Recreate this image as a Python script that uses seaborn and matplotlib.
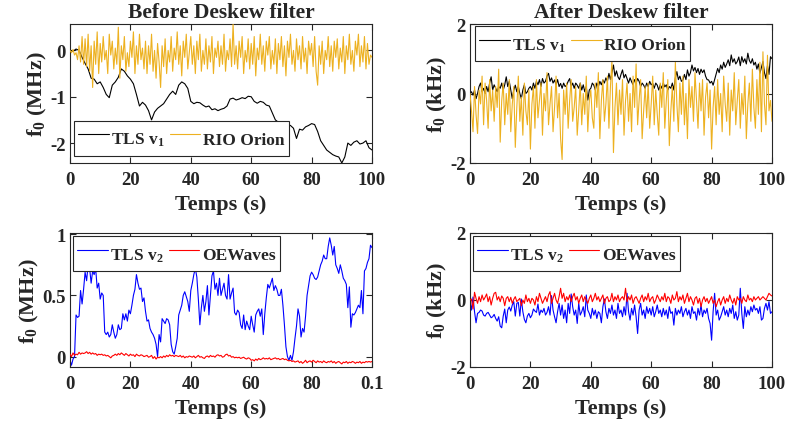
import numpy as np
import pandas as pd
import matplotlib
matplotlib.use("Agg")
import matplotlib.pyplot as plt
import seaborn as sns

# ---------------- data ----------------
t_fine = np.arange(0, 100.01, 0.5)     # 201 samples, 0.5 s apart
t_coarse = np.arange(0, 101, 1.0)      # 101 samples, 1 s apart

tls_v1_before = [
    0.0, -0.02, 0.03, 0.0, -0.15, -0.28, -0.4, -0.6, -0.62, -0.72,
    -0.68, -0.8, -0.95, -1.02, -0.75, -0.68, -0.58, -0.4, -0.45, -0.55,
    -0.62, -0.72, -0.95, -1.2, -1.12, -1.18, -1.3, -1.5, -1.33, -1.25,
    -1.2, -1.15, -1.05, -0.95, -0.88, -0.95, -0.75, -0.68, -0.72, -0.82,
    -1.1, -1.15, -1.12, -1.13, -1.18, -1.22, -1.2, -1.28, -1.26, -1.3,
    -1.27, -1.25, -1.2, -1.05, -1.03, -1.07, -1.05, -1.02, -1.04, -0.99,
    -1.0, -1.1, -1.14, -1.1, -1.12, -1.18, -1.2, -1.35, -1.5, -1.55,
    -1.6, -1.65, -1.6, -1.62, -1.68, -1.9, -1.7, -1.72, -1.65, -1.62,
    -1.58, -1.6, -1.75, -1.95, -2.05, -2.15, -2.2, -2.25, -2.28, -2.3,
    -2.43, -2.3, -2.0, -2.05, -1.98, -1.95, -2.02, -2.0, -1.95, -2.1,
    -2.15]

rio_before = [
    0.0, -0.05, 0.02, -0.1, -0.05, -0.2, 0.1, -0.25, 0.3, -0.3,
    0.25, -0.35, 0.35, -0.45, 0.1, -0.8, 0.2, -0.3, 0.4, -0.5,
    0.15, -0.25, 0.3, -0.2, 0.0, -0.5, 0.35, -0.1, 0.2, -0.4,
    0.05, -0.3, 0.5, -0.6, 0.1, -0.2, 0.3, -0.45, -0.05, -0.35,
    0.2, -0.15, 0.4, -0.5, 0.1, -0.3, 0.35, -0.2, 0.05, -0.4,
    0.2, -0.5, 0.1, -0.3, 0.35, -0.45, 0.0, -0.6, 0.15, -0.25,
    -0.8, 0.1, -0.35, 0.25, -0.5, 0.0, -0.25, 0.3, -0.45, 0.05,
    -0.2, 0.4, -0.3, 0.1, -0.55, 0.2, -0.15, 0.35, -0.4, -0.05,
    0.3, -0.3, 0.1, -0.5, 0.2, -0.2, 0.35, -0.45, 0.0, -0.3,
    0.25, -0.4, 0.1, -0.25, 0.3, -0.5, 0.05, -0.15, 0.2, -0.35,
    0.1, -0.3, 0.35, -0.45, 0.0, -0.2, 0.25, -0.35, 0.57, -0.3,
    0.1, -0.4, 0.2, -0.15, 0.3, -0.5, 0.0, -0.25, 0.25, -0.4,
    0.15, -0.3, 0.3, -0.55, 0.05, -0.2, 0.35, -0.3, 0.1, -0.45,
    0.2, -0.1, 0.3, -0.4, 0.0, -0.3, 0.25, -0.5, 0.15, -0.2,
    0.3, -0.35, 0.1, -0.55, 0.2, -0.15, 0.35, -0.3, 0.0, -0.45,
    0.25, -0.2, 0.1, -0.4, 0.3, -0.25, 0.05, -0.5, 0.2, -0.1,
    0.15, -0.35, 0.3, -0.45, -0.75, 0.1, -0.3, 0.2, -0.5, 0.0,
    -0.2, 0.3, -0.35, 0.1, -0.45, 0.2, -0.15, 0.25, -0.4, 0.05,
    -0.25, 0.3, -0.5, 0.1, -0.2, 0.35, -0.3, 0.0, -0.45, 0.2,
    -0.1, 0.35, -0.35, 0.1, -0.25, 0.3, -0.4, 0.15, -0.3, -0.1,
    -0.15]

tls_v1_after = [
    0.0, 0.05, -0.05, 0.1, -0.15, 0.0, 0.2, 0.3, 0.05, 0.15,
    0.0, 0.2, 0.05, 0.3, 0.48, 0.1, 0.25, 0.15, 0.05, 0.2,
    0.15, 0.3, 0.1, 0.25, 0.48, 0.2, 0.35, 0.1, -0.15, 0.1,
    0.24, 0.05, 0.2, 0.0, -0.15, 0.1, 0.25, 0.0, 0.05, 0.15,
    0.2, 0.1, 0.3, 0.15, 0.35, 0.25, 0.4, 0.2, 0.43, 0.3,
    0.35, 0.5, 0.58, 0.35, 0.45, 0.3, 0.39, 0.25, 0.4, 0.2,
    0.29, 0.15, 0.3, 0.2, 0.24, 0.35, 0.43, 0.2, 0.3, 0.15,
    0.3, 0.24, 0.15, 0.3, 0.1, 0.25, 0.05, 0.2, -0.19, 0.1,
    0.15, 0.3, 0.24, 0.1, 0.3, 0.2, 0.35, 0.25, 0.39, 0.3,
    0.45, 0.35, 0.58, 0.4, 0.6, 0.82, 0.5, 0.65, 0.48, 0.4,
    0.55, 0.68, 0.45, 0.55, 0.43, 0.3, 0.45, 0.34, 0.25, 0.4,
    0.3, 0.43, 0.35, 0.2, 0.3, 0.24, 0.15, 0.3, 0.2, 0.35,
    0.25, 0.29, 0.15, 0.3, 0.24, 0.1, 0.25, 0.15, 0.3, 0.19,
    0.25, 0.1, 0.2, 0.15, 0.3, 0.1, 0.45, 0.63, 0.4, 0.5,
    0.35, 0.39, 0.55, 0.4, 0.68, 0.5, 0.6, 0.82, 0.65, 0.75,
    0.6, 0.72, 0.55, 0.7, 0.6, 0.68, 0.5, 0.4, 0.39, 0.3,
    0.35, 0.24, 0.4, 0.55, 0.72, 0.6, 0.82, 0.7, 0.9, 0.75,
    0.85, 0.97, 0.8, 1.11, 0.9, 1.0, 0.85, 0.92, 1.05, 0.8,
    1.06, 0.9, 1.0, 0.85, 1.16, 0.95, 0.87, 1.0, 0.82, 0.9,
    0.7, 0.85, 0.58, 0.75, 0.92, 0.6, 0.43, 0.8, 0.55, 1.06,
    1.0]

rio_after = [
    0.0, -0.5, -1.1, 0.2, -0.6, -1.15, 0.1, -0.3, 0.5, -0.9,
    0.3, -0.2, -1.0, 0.4, -0.5, 0.1, -0.8, 0.2, -0.4, 0.7,
    -1.4, -0.2, 0.3, -0.9, 0.0, -0.6, 0.4, -1.1, -0.3, 0.2,
    -1.55, -0.4, 0.5, -0.8, -0.1, -1.2, 0.3, -0.5, -0.9, 0.1,
    -1.6, -0.3, 0.2, -1.0, 0.4, -0.7, -0.2, 0.3, -1.2, 0.0,
    -0.5, 0.6, -0.9, -0.3, 0.2, -1.1, -0.4, 0.5, -0.7, 0.0,
    -1.3, -1.9, 0.1, -0.6, 0.3, -1.0, -0.2, 0.4, -0.8, -0.4,
    0.2, -1.2, -0.5, 0.3, -0.9, 0.0, -0.6, 0.5, -1.1, -0.2,
    0.1, -0.7, -1.0, 0.3, -0.4, 0.6, -1.3, -0.2, 0.4, -0.8,
    -0.3, 0.5, -1.0, 0.2, 0.95, -1.7, -0.4, 0.3, -0.9, 0.1,
    -0.6, 0.4, -1.2, -0.2, 0.3, -0.8, 0.0, -1.1, 0.5, -0.4,
    0.85, -0.9, -0.2, 0.4, -1.3, -0.5, 0.2, -0.7, 0.3, -1.0,
    -0.3, 0.5, -0.9, 0.1, -0.6, -1.2, 0.3, -0.4, 0.6, -1.0,
    -0.2, 0.4, -1.5, -0.5, 0.2, -0.8, 0.9, -0.3, -1.1, 0.3,
    -0.6, 0.5, -0.9, 0.0, -1.3, 0.4, -0.4, 0.2, -0.8, 0.6,
    -0.2, -1.0, 0.3, -0.5, 0.4, -1.2, -0.1, 0.3, -0.7, 0.1,
    -1.6, -0.4, 0.2, -0.9, 0.4, -0.6, 0.0, -1.1, 0.5, -0.3,
    -0.8, 0.3, -1.2, 0.1, -0.5, 0.6, -0.9, -0.2, 0.4, -1.0,
    0.0, -0.6, 0.5, -1.3, -0.3, 0.3, -0.8, 0.7, -0.4, -1.0,
    0.4, -0.6, 0.9, -1.1, 1.2, -0.3, -0.9, 1.1, -0.5, -0.2,
    -0.8]

tls_v2_before = [
    -0.03, -0.07, -0.02, 0.0, 0.34, 0.32, 0.33, 0.54, 0.43, 0.55,
    0.69, 0.62, 0.75, 0.72, 0.6, 0.7, 0.67, 0.72, 0.56, 0.6,
    0.47, 0.52, 0.5, 0.2, 0.18, 0.2, 0.16, 0.18, 0.26, 0.2,
    0.15, 0.18, 0.26, 0.22, 0.23, 0.35, 0.3, 0.35, 0.29, 0.38,
    0.35, 0.42, 0.5, 0.55, 0.67, 0.6, 0.55, 0.56, 0.45, 0.48,
    0.37, 0.29, 0.3, 0.23, 0.2, 0.18, 0.15, 0.1, 0.0, 0.18,
    0.12, 0.31, 0.29, 0.27, 0.31, 0.3, 0.26, 0.1, 0.04, 0.02,
    0.08, 0.15, 0.34, 0.38, 0.42, 0.5, 0.53, 0.49, 0.45, 0.37,
    0.54, 0.6, 0.67, 0.72, 0.65, 0.47, 0.26, 0.4, 0.5, 0.37,
    0.45, 0.58, 0.34, 0.5, 0.66, 0.7, 0.55, 0.6, 0.5, 0.64,
    0.5, 0.55, 0.6, 0.5, 0.47, 0.67, 0.47, 0.52, 0.56, 0.36,
    0.34, 0.38, 0.36, 0.26, 0.23, 0.34, 0.22, 0.29, 0.25, 0.22,
    0.33, 0.26, 0.2, 0.34, 0.37, 0.39, 0.33, 0.39, 0.18, 0.35,
    0.48, 0.59, 0.56, 0.6, 0.64, 0.54, 0.58, 0.55, 0.5, 0.5,
    0.55, 0.42, 0.26, 0.08, 0.0, -0.03, 0.01, -0.03, 0.04, 0.15,
    0.25, 0.39, 0.33, 0.16, 0.23, 0.2, 0.33, 0.5, 0.58, 0.66,
    0.69, 0.67, 0.64, 0.63, 0.65, 0.7, 0.75, 0.78, 0.83, 0.8,
    0.8, 0.9, 0.97, 0.91, 0.83, 0.9, 0.75, 0.72, 0.68, 0.75,
    0.7, 0.64, 0.62, 0.59, 0.4, 0.57, 0.24, 0.35, 0.34, 0.36,
    0.39, 0.42, 0.4, 0.54, 0.35, 0.7, 0.72, 0.77, 0.8, 0.91,
    0.89]

oewaves_before = [
    0.02, 0.0, 0.03, 0.01, 0.02, 0.015, 0.035, 0.02, 0.03, 0.025,
    0.03, 0.04, 0.025, 0.035, 0.02, 0.03, 0.02, 0.025, 0.01, 0.02,
    0.015, 0.02, 0.01, 0.015, 0.005, 0.01, 0.0, -0.01, 0.005, 0.01,
    0.02, 0.01, 0.025, 0.015, 0.03, 0.02, 0.01, 0.025, 0.015, 0.005,
    0.02, 0.01, 0.015, 0.0, 0.02, 0.01, 0.005, 0.015, 0.01, 0.0,
    0.005, 0.01, -0.005, 0.0, 0.01, -0.015, 0.0, -0.02, -0.005, -0.01,
    0.0, -0.01, 0.005, -0.005, 0.01, 0.0, 0.015, 0.005, 0.01, 0.0,
    0.01, 0.005, 0.0, 0.01, -0.005, 0.005, -0.01, 0.0, -0.005, 0.005,
    0.0, -0.005, 0.005, -0.01, 0.0, 0.01, -0.005, 0.0, -0.01, -0.015,
    0.0, 0.005, -0.005, 0.01, 0.0, 0.005, -0.005, 0.01, 0.015, 0.005,
    0.01, -0.005, 0.0, 0.015, 0.02, 0.005, 0.01, -0.005, 0.0, -0.01,
    -0.005, -0.01, -0.005, -0.015, -0.01, -0.005, -0.015, -0.02, -0.01, -0.015,
    -0.03, -0.025, -0.035, -0.02, -0.03, -0.015, -0.025, -0.02, -0.01, -0.02,
    -0.015, -0.02, -0.01, -0.025, -0.02, -0.015, -0.01, -0.02, -0.015, -0.025,
    -0.02, -0.015, -0.025, -0.02, -0.03, -0.035, -0.03, -0.04, -0.035, -0.045,
    -0.04, -0.035, -0.05, -0.04, -0.055, -0.045, -0.03, -0.05, -0.04, -0.035,
    -0.045, -0.03, -0.04, -0.05, -0.035, -0.045, -0.04, -0.05, -0.035, -0.045,
    -0.05, -0.04, -0.045, -0.035, -0.05, -0.04, -0.055, -0.045, -0.04, -0.05,
    -0.06, -0.045, -0.05, -0.04, -0.055, -0.045, -0.05, -0.04, -0.045, -0.055,
    -0.045, -0.05, -0.04, -0.055, -0.045, -0.05, -0.04, -0.045, -0.04, -0.045,
    -0.04]

tls_v2_after = [
    -0.05, -0.3, 0.09, -0.35, -0.68, -0.4, -0.37, -0.3, -0.33, -0.45,
    -0.48, -0.4, -0.37, -0.45, -0.53, -0.5, -0.43, -0.55, -0.63, -0.5,
    -0.78, -0.83, -0.48, -0.27, -0.68, -0.3, -0.21, -0.33, -0.15, -0.05,
    -0.48, -0.1, -0.07, -0.48, 0.03, -0.35, -0.58, -0.68, -0.48, -0.4,
    -0.53, -0.45, -0.27, -0.33, -0.37, -0.12, -0.45, -0.3, -0.37, -0.25,
    -0.45, -0.37, -0.2, -0.45, 0.13, -0.3, -0.5, -0.68, -0.35, -0.1,
    -0.45, -0.15, -0.55, -0.3, -0.68, -0.1, -0.4, 0.18, -0.2, -0.45,
    -0.3, -0.7, -0.1, -0.45, -0.35, -0.2, -0.5, 0.15, -0.3, -0.4,
    -0.55, -0.25, -0.45, -0.3, -0.55, -0.35, -0.4, -0.68, -0.2, 0.03,
    -0.35, -0.55, -0.25, -0.4, -0.15, -0.45, -0.3, -0.55, -0.1, -0.4,
    -0.3, -0.5, -0.2, -0.45, 0.2, -0.35, -0.6, -0.25, -0.45, -0.15,
    -0.5, -1.0, -0.3, -0.1, -0.45, -0.3, -0.55, -0.2, -0.4, -0.25,
    -0.45, -0.2, -0.5, -0.35, -0.15, -0.4, -0.3, -0.5, -0.25, -0.45,
    -0.3, -0.55, -0.2, -0.4, -0.35, -0.75, -0.25, -0.45, -0.3, -0.4,
    -0.2, -0.5, -0.35, -0.25, -0.45, -0.3, -0.55, -0.2, -0.4, -0.35,
    -0.6, -0.25, -0.45, -0.15, -0.5, -0.3, -0.4, -0.25, -0.55, -0.7,
    -1.2, -0.35, 0.2, -0.45, -0.3, -0.6, -0.5, -0.35, -0.2, -0.45,
    -0.3, -0.5, -0.25, -0.4, -0.15, -0.55, -0.35, -0.6, -0.45, 0.35,
    -0.4, -0.85, -0.2, -0.5, -0.3, -0.45, -0.2, -0.35, -0.15, -0.3,
    -0.25, -0.4, -0.2, -0.6, -0.55, -0.25, -0.1, -0.3, -0.05, -0.4,
    -0.35]

oewaves_after = [
    0.0, 0.03, -0.27, 0.23, 0.05, -0.1, 0.1, -0.05, 0.15, 0.0,
    0.08, 0.18, -0.05, 0.1, -0.15, 0.05, 0.2, 0.23, 0.0, 0.1,
    -0.05, 0.12, 0.05, -0.17, 0.05, 0.1, -0.05, 0.08, -0.1, 0.02,
    0.1, -0.05, 0.0, 0.05, -0.17, 0.0, -0.1, 0.15, -0.05, 0.05,
    -0.1, 0.05, 0.0, -0.15, 0.1, -0.05, 0.2, 0.05, -0.1, 0.0,
    0.1, -0.05, 0.15, 0.25, -0.1, 0.05, 0.2, 0.0, -0.1, 0.1,
    0.35, 0.05, 0.2, -0.05, 0.1, 0.0, 0.15, -0.05, 0.1, 0.2,
    0.0, 0.1, -0.1, 0.05, 0.15, -0.05, 0.1, 0.0, -0.1, 0.05,
    0.15, -0.05, 0.05, 0.2, 0.0, 0.1, -0.05, 0.05, 0.15, -0.1,
    0.05, 0.1, -0.05, 0.0, 0.2, -0.05, 0.1, 0.0, 0.15, -0.05,
    0.05, 0.1, 0.0, 0.35, -0.05, 0.1, 0.0, 0.15, -0.1, 0.05,
    0.1, 0.0, -0.1, 0.05, 0.15, -0.05, 0.1, 0.0, 0.2, -0.05,
    0.05, 0.1, -0.1, 0.0, 0.15, 0.05, -0.05, 0.1, 0.0, 0.2,
    -0.05, 0.1, 0.05, -0.1, 0.15, 0.0, 0.05, 0.25, -0.05, 0.1,
    0.0, 0.15, -0.1, 0.05, 0.2, -0.05, 0.1, 0.0, -0.15, 0.05,
    0.1, -0.1, 0.05, -0.2, 0.0, 0.1, -0.05, 0.05, -0.1, 0.0,
    0.1, -0.1, 0.0, -0.2, -0.05, 0.05, -0.15, 0.0, 0.1, -0.1,
    0.05, -0.05, 0.15, 0.0, -0.1, 0.05, -0.15, 0.1, 0.0, 0.05,
    -0.1, 0.1, 0.0, -0.05, 0.15, 0.0, 0.05, -0.05, 0.1, 0.0,
    0.05, 0.1, 0.0, 0.05, 0.1, 0.05, 0.0, 0.1, 0.2, 0.15,
    0.12]

titles = ["Before Deskew filter", "After Deskew filter"]
xlabel = "Temps (s)"
ylabel_mhz = r"$\mathregular{f_0}$ (MHz)"
ylabel_khz = r"$\mathregular{f_0}$ (kHz)"
xtick_vals = [0, 20, 40, 60, 80, 100]
xtick_labels_std = ["0", "20", "40", "60", "80", "100"]
xtick_labels_v2 = ["0", "20", "40", "60", "80", "0.1"]
lbl_v1 = r"TLS $\mathregular{v_1}$"
lbl_v2 = r"TLS $\mathregular{v_2}$"
lbl_rio = "RIO Orion"
lbl_oew = "OEWaves"

C_BLACK = "#000000"
C_ORANGE = "#EDB120"
C_BLUE = "#0000FF"
C_RED = "#FF0000"

# ---------------- style ----------------
sns.set_style("ticks")
plt.rcParams["font.family"] = ["Liberation Serif", "DejaVu Serif"]
plt.rcParams["font.weight"] = "bold"
plt.rcParams["axes.labelweight"] = "bold"
plt.rcParams["axes.titleweight"] = "bold"
plt.rcParams["axes.unicode_minus"] = False
plt.rcParams["xtick.direction"] = "in"
plt.rcParams["ytick.direction"] = "in"
plt.rcParams["xtick.top"] = True
plt.rcParams["ytick.right"] = True

fig = plt.figure(figsize=(7.89, 4.31), dpi=100)
W, H = 789.0, 431.0


def make_ax(left, top, right, bottom):
    return fig.add_axes([left / W, 1 - bottom / H, (right - left) / W, (bottom - top) / H])


ax1 = make_ax(70, 25, 372, 164)
ax2 = make_ax(470, 25, 772, 164)
ax3 = make_ax(70, 234, 372, 368)
ax4 = make_ax(470, 234, 772, 368)

LW = 0.8


def draw(ax, x1, y1, c1, l1, x2, y2, c2, l2):
    sns.lineplot(x=x1, y=y1, ax=ax, color=c1, lw=LW, label=l1, estimator=None, sort=False, zorder=2)
    sns.lineplot(x=x2, y=y2, ax=ax, color=c2, lw=LW, label=l2, estimator=None, sort=False, zorder=3)


draw(ax1, t_coarse, tls_v1_before, C_BLACK, lbl_v1, t_fine, rio_before, C_ORANGE, lbl_rio)
draw(ax2, t_fine, tls_v1_after, C_BLACK, lbl_v1, t_fine, rio_after, C_ORANGE, lbl_rio)
draw(ax3, t_fine, tls_v2_before, C_BLUE, lbl_v2, t_fine, oewaves_before, C_RED, lbl_oew)
draw(ax4, t_fine, tls_v2_after, C_BLUE, lbl_v2, t_fine, oewaves_after, C_RED, lbl_oew)

ax1.set_ylim(-2.43, 0.57)
ax1.set_yticks([-2, -1, 0])
ax2.set_ylim(-2, 2)
ax2.set_yticks([-2, 0, 2])
ax3.set_ylim(-0.085, 1.01)
ax3.set_yticks([0, 0.5, 1])
ax3.set_yticklabels(["0", "0.5", "1"])
ax4.set_ylim(-2, 2)
ax4.set_yticks([-2, 0, 2])

TXT = "#262626"
for ax, xl, yl in [(ax1, xtick_labels_std, ylabel_mhz), (ax2, xtick_labels_std, ylabel_khz),
                   (ax3, xtick_labels_v2, ylabel_mhz), (ax4, xtick_labels_std, ylabel_khz)]:
    ax.set_xlim(0, 100)
    ax.set_xticks(xtick_vals)
    ax.set_xticklabels(xl)
    ax.tick_params(axis="both", labelsize=13.5, length=4, width=0.8, color=TXT, labelcolor=TXT, pad=3)
    ax.tick_params(axis="x", pad=6)
    for lab in ax.get_xticklabels() + ax.get_yticklabels():
        lab.set_fontweight("bold")
    ax.set_xlabel(xlabel, fontsize=16, fontweight="bold", color=TXT, labelpad=4)
    ax.set_ylabel(yl, fontsize=16, fontweight="bold", color=TXT, labelpad=1)
    for sp in ax.spines.values():
        sp.set_visible(True)
        sp.set_linewidth(0.8)
        sp.set_color(TXT)

ax1.set_title(titles[0], fontsize=15.5, fontweight="bold", pad=5)
ax2.set_title(titles[1], fontsize=15.5, fontweight="bold", pad=5)

leg_kw = dict(ncol=2, fontsize=12.5, frameon=True, fancybox=False, framealpha=1.0,
              edgecolor=TXT, handlelength=1.75, handleheight=2.0, handletextpad=0.15,
              columnspacing=0.3, borderpad=0.25, borderaxespad=0.0)
l1 = ax1.legend(loc="lower left", bbox_to_anchor=(0.013, 0.05), **leg_kw)
l2 = ax2.legend(loc="upper left", bbox_to_anchor=(0.017, 0.986), **leg_kw)
l3 = ax3.legend(loc="upper left", bbox_to_anchor=(0.01, 0.978), **leg_kw)
l4 = ax4.legend(loc="upper left", bbox_to_anchor=(0.01, 0.978), **leg_kw)
for lg in (l1, l2, l3, l4):
    lg.get_frame().set_linewidth(0.8)
    for txt in lg.get_texts():
        txt.set_fontweight("bold")
        txt.set_color(TXT)
    lg.set_zorder(10)

fig.savefig("out.png", dpi=100)
